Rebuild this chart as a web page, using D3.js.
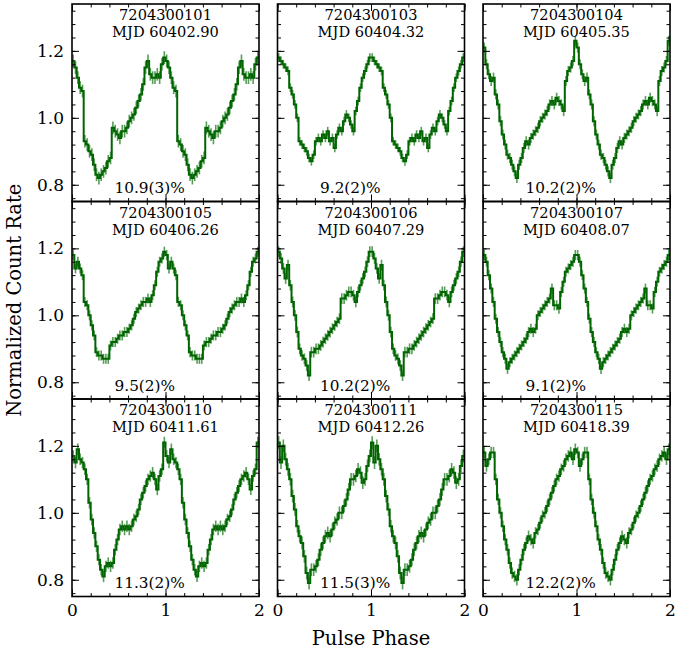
<!DOCTYPE html>
<html>
<head>
<meta charset="utf-8">
<script src="https://cdn.jsdelivr.net/npm/d3@7"></script>
<style>
  body { margin: 0; background: #fff; }
  svg text { font-family: "DejaVu Serif", serif; fill: #000; }
</style>
</head>
<body>
<div id="chart"></div>
<script>
// pulse profiles, 40 bins per cycle (phase 0-1), drawn twice

var obsIds = ["7204300101", "7204300103", "7204300104",
              "7204300105", "7204300106", "7204300107",
              "7204300110", "7204300111", "7204300115"];
var mjds = ["MJD 60402.90", "MJD 60404.32", "MJD 60405.35",
            "MJD 60406.26", "MJD 60407.29", "MJD 60408.07",
            "MJD 60411.61", "MJD 60412.26", "MJD 60418.39"];
var pulsedFrac = ["10.9(3)%", "9.2(2)%", "10.2(2)%",
                  "9.5(2)%", "10.2(2)%", "9.1(2)%",
                  "11.3(2)%", "11.5(3)%", "12.2(2)%"];
var errs = [0.019, 0.013, 0.015, 0.015, 0.016, 0.015, 0.017, 0.019, 0.017];

var prof101 = [1.17, 1.15, 1.12, 1.09, 1.08, 0.93, 0.92, 0.90, 0.89, 0.86,
               0.83, 0.82, 0.83, 0.84, 0.85, 0.87, 0.88, 0.97, 0.96, 0.95,
               0.94, 0.96, 0.96, 0.97, 0.99, 1.00, 1.01, 1.03, 1.05, 1.07,
               1.10, 1.15, 1.17, 1.13, 1.12, 1.12, 1.13, 1.12, 1.16, 1.18];
var prof103 = [1.18, 1.17, 1.16, 1.15, 1.14, 1.09, 1.07, 1.04, 1.00, 0.93,
               0.92, 0.91, 0.90, 0.88, 0.87, 0.89, 0.93, 0.94, 0.93, 0.95,
               0.94, 0.96, 0.93, 0.94, 0.91, 0.95, 0.97, 0.96, 0.99, 1.01,
               1.00, 0.98, 0.96, 1.02, 1.05, 1.09, 1.12, 1.14, 1.16, 1.18];
var prof104 = [1.21, 1.16, 1.13, 1.11, 1.12, 1.07, 1.04, 0.99, 0.95, 0.92,
               0.89, 0.88, 0.86, 0.84, 0.82, 0.86, 0.88, 0.91, 0.93, 0.92,
               0.94, 0.95, 0.96, 0.97, 0.99, 1.00, 1.01, 1.02, 1.04, 1.05,
               1.04, 1.06, 1.05, 1.04, 1.02, 1.11, 1.14, 1.15, 1.17, 1.23];
var prof105 = [1.18, 1.14, 1.16, 1.14, 1.12, 1.04, 1.03, 1.00, 0.97, 0.94,
               0.89, 0.88, 0.88, 0.87, 0.87, 0.87, 0.91, 0.92, 0.92, 0.93,
               0.94, 0.94, 0.95, 0.95, 0.96, 0.97, 0.99, 1.01, 1.02, 1.03,
               1.04, 1.04, 1.05, 1.04, 1.06, 1.09, 1.13, 1.16, 1.17, 1.19];
var prof106 = [1.19, 1.17, 1.14, 1.11, 1.15, 1.09, 1.04, 1.00, 0.95, 0.90,
               0.88, 0.87, 0.85, 0.82, 0.89, 0.89, 0.90, 0.90, 0.91, 0.92,
               0.93, 0.94, 0.95, 0.96, 0.97, 0.98, 0.99, 1.05, 1.05, 1.06,
               1.07, 1.07, 1.06, 1.04, 1.07, 1.09, 1.11, 1.13, 1.16, 1.19];
var prof107 = [1.18, 1.16, 1.12, 1.08, 1.04, 0.99, 0.95, 0.92, 0.89, 0.87,
               0.84, 0.86, 0.87, 0.88, 0.89, 0.90, 0.91, 0.92, 0.93, 0.95,
               0.96, 0.95, 0.96, 1.00, 1.01, 1.02, 1.03, 1.04, 1.05, 1.08,
               1.03, 1.03, 1.02, 1.07, 1.10, 1.13, 1.14, 1.15, 1.16, 1.18];
var prof110 = [1.17, 1.15, 1.19, 1.16, 1.15, 1.13, 1.10, 1.03, 0.98, 0.94,
               0.90, 0.86, 0.83, 0.81, 0.84, 0.85, 0.84, 0.85, 0.89, 0.92,
               0.95, 0.96, 0.95, 0.96, 0.95, 0.96, 0.98, 0.99, 1.01, 1.04,
               1.06, 1.08, 1.10, 1.11, 1.12, 1.10, 1.07, 1.11, 1.13, 1.21];
var prof111 = [1.21, 1.15, 1.20, 1.16, 1.13, 1.10, 1.05, 1.01, 0.96, 0.93,
               0.91, 0.87, 0.82, 0.79, 0.83, 0.83, 0.84, 0.86, 0.89, 0.91,
               0.93, 0.94, 0.93, 0.95, 0.97, 0.98, 1.00, 1.00, 1.02, 1.04,
               1.07, 1.10, 1.10, 1.11, 1.13, 1.12, 1.09, 1.10, 1.14, 1.17];
var prof115 = [1.18, 1.14, 1.16, 1.18, 1.18, 1.10, 1.04, 1.00, 0.96, 0.92,
               0.89, 0.85, 0.82, 0.81, 0.80, 0.83, 0.86, 0.89, 0.91, 0.93,
               0.92, 0.91, 0.94, 0.95, 0.97, 0.99, 1.00, 1.02, 1.04, 1.06,
               1.08, 1.10, 1.11, 1.13, 1.14, 1.16, 1.17, 1.18, 1.16, 1.19];

var profiles = [prof101, prof103, prof104, prof105, prof106,
                prof107, prof110, prof111, prof115];

var xMajor = [0, 1, 2];
var yMajor = [0.8, 1.0, 1.2];

//
// layout
//
var W = 675, H = 654;
var colLeft = [72, 277.5, 483];
var rowTop = [4, 201.5, 399];
var pw = 187, ph = 197.5;
var lineColor = '#006400';
var errColor = '#1f7d1f';

var x = d3.scaleLinear().domain([0, 2]).range([0, pw]);
var y = d3.scaleLinear().domain([0.75, 1.34]).range([ph, 0]);

var xMinor = d3.range(0, 2.001, 0.2);
var yMinor = d3.range(0.76, 1.341, 0.04);

var svg = d3.select('#chart').append('svg')
    .attr('width', W)
    .attr('height', H);

var line = d3.line()
    .x(function(d) { return x(d[0]); })
    .y(function(d) { return y(d[1]); })
    .curve(d3.curveStep);

profiles.forEach(function(prof, k) {
    var col = k % 3, row = Math.floor(k / 3);
    var g = svg.append('g')
        .attr('transform', 'translate(' + colLeft[col] + ',' + rowTop[row] + ')');

    // two cycles of bin centres
    var n = prof.length;
    var pts = [];
    for (var c = 0; c < 2; c++) {
        prof.forEach(function(v, i) { pts.push([c + (i + 0.5) / n, v]); });
    }
    var stepPts = [[0, pts[0][1]]].concat(pts, [[2, pts[pts.length - 1][1]]]);

    // error bars
    g.selectAll('line.err')
        .data(pts)
        .enter()
        .append('line')
        .attr('x1', function(d) { return x(d[0]); })
        .attr('x2', function(d) { return x(d[0]); })
        .attr('y1', function(d) { return y(d[1] - errs[k]); })
        .attr('y2', function(d) { return y(d[1] + errs[k]); })
        .attr('stroke', errColor)
        .attr('stroke-width', 1.6)
        .attr('opacity', 0.75);

    g.append('path')
        .datum(stepPts)
        .attr('d', line)
        .attr('fill', 'none')
        .attr('stroke', lineColor)
        .attr('stroke-width', 2);

    // ticks, all inward
    var axes = [
        [d3.axisBottom, 'translate(0,' + ph + ')', x, xMajor, xMinor],
        [d3.axisTop, null, x, xMajor, xMinor],
        [d3.axisLeft, null, y, yMajor, yMinor],
        [d3.axisRight, 'translate(' + pw + ',0)', y, yMajor, yMinor]
    ];
    axes.forEach(function(a, j) {
        var labelled = (j === 0 && row === 2) || (j === 2 && col === 0);
        var mAx = a[0](a[2]).tickValues(a[4]).tickSize(-3.5).tickFormat('');
        var MAx = a[0](a[2]).tickValues(a[3]).tickSize(-7).tickPadding(j === 0 ? 7 : 8)
            .tickFormat(labelled ? (j === 0 ? d3.format('d') : d3.format('.1f')) : '');
        var mg = g.append('g').call(mAx);
        var Mg = g.append('g').call(MAx);
        if (a[1]) { mg.attr('transform', a[1]); Mg.attr('transform', a[1]); }
        [mg, Mg].forEach(function(s) {
            s.select('.domain').remove();
            s.selectAll('line').attr('stroke', '#000').attr('stroke-width', 1);
            s.selectAll('text').style('font-size', '17px').style('font-family', 'DejaVu Serif');
        });
        if (!labelled) Mg.selectAll('text').remove();
    });

    // frame
    g.append('rect')
        .attr('width', pw)
        .attr('height', ph)
        .attr('fill', 'none')
        .attr('stroke', '#000')
        .attr('stroke-width', 1.6);

    // labels in the panel
    g.append('text')
        .attr('x', pw / 2).attr('y', 16.2)
        .attr('text-anchor', 'middle')
        .style('font-size', '14.6px')
        .text(obsIds[k]);
    g.append('text')
        .attr('x', pw / 2).attr('y', 33)
        .attr('text-anchor', 'middle')
        .style('font-size', '14.6px')
        .text(mjds[k]);
    g.append('text')
        .attr('x', x(0.455)).attr('y', 189)
        .attr('text-anchor', 'start')
        .style('font-size', '15.3px')
        .text(pulsedFrac[k]);
});

// axis titles
svg.append('text')
    .attr('x', colLeft[1] + pw / 2).attr('y', 645)
    .attr('text-anchor', 'middle')
    .style('font-size', '19.5px')
    .text('Pulse Phase');

svg.append('text')
    .attr('transform', 'translate(21,' + (rowTop[0] + rowTop[2] + ph) / 2 + ') rotate(-90)')
    .attr('text-anchor', 'middle')
    .style('font-size', '19.5px')
    .text('Normalized Count Rate');
</script>
</body>
</html>
